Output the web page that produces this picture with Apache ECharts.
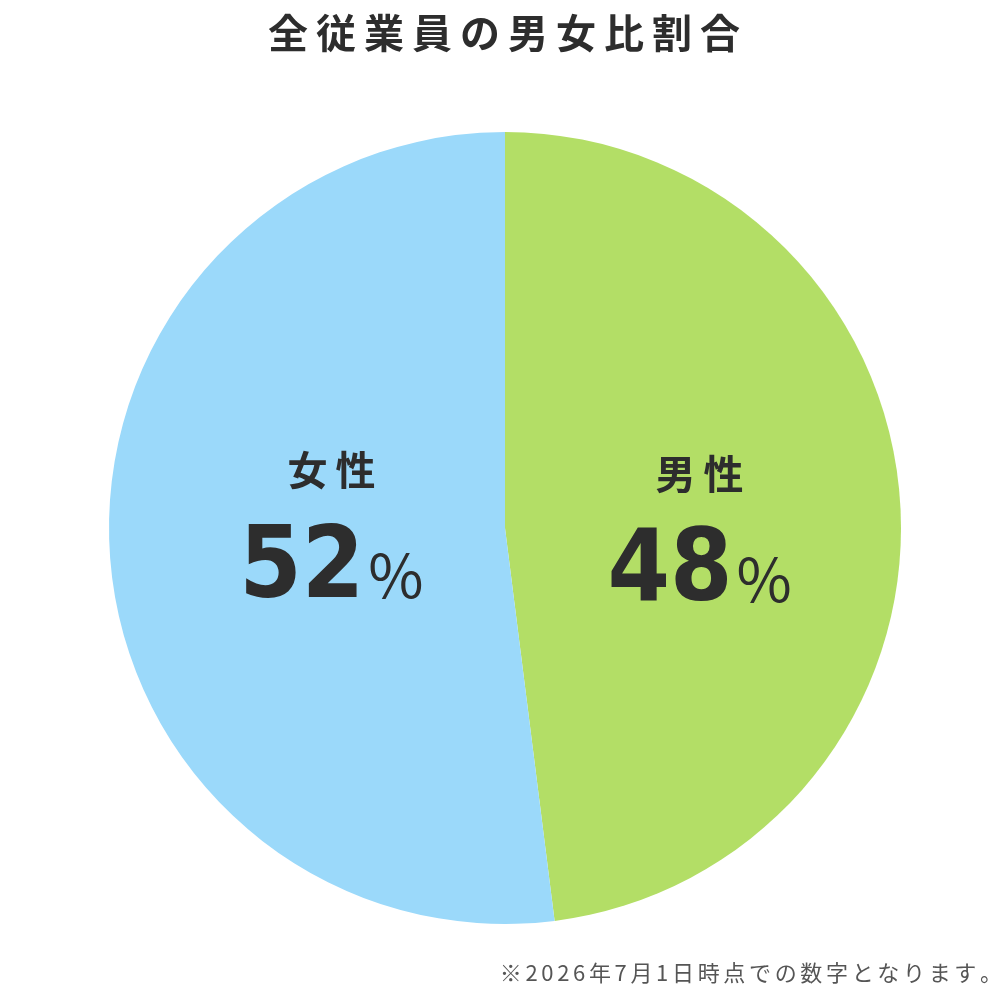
<!DOCTYPE html>
<html lang="ja">
<head>
    <meta charset="UTF-8">
    <title>全従業員の男女比割合</title>
    <script src="https://cdn.jsdelivr.net/npm/echarts@6/dist/echarts.min.js"></script>
    <style>
        html, body { margin: 0; padding: 0; background: #fff; }
        #pic1 { width: 1008px; height: 1008px; }
    </style>
</head>
<body>
<div id="pic1"></div>
<script>
    // データ
    var categories = ['男性', '女性'];
    var values = [48, 52];
    var colors = ['#b3de66', '#9bd9fa'];
    var titleText = '全従業員の男女比割合';
    var noteText = '※2026年7月1日時点での数字となります。';

    // 文字間隔の代わりに細いスペースを入れる
    function spaced(str, sp) {
        return str.split('').join(sp);
    }

    var pieData = categories.map(function (name, i) {
        return { name: name, value: values[i], itemStyle: { color: colors[i] } };
    });

    // ラベル位置の微調整 (男性, 女性)
    var labelShift = [[-6, 13], [27, -16]];

    var myCharts1 = echarts.init(document.getElementById('pic1'));
    var option1 = {
        backgroundColor: '#ffffff',
        animation: false,
        title: [
            {
                text: spaced(titleText, '\u2009'),
                left: 'center',
                top: 8,
                textStyle: {
                    color: '#2d2d2d',
                    fontSize: 40,
                    fontWeight: 'bold',
                    fontFamily: 'Noto Sans CJK JP'
                }
            },
            {
                text: spaced(noteText, '\u2006'),
                right: 1,
                top: 957,
                textStyle: {
                    color: '#555555',
                    fontSize: 22,
                    fontWeight: 'normal',
                    fontFamily: 'Noto Sans CJK JP'
                }
            }
        ],
        series: [
            {
                name: '男女比',
                type: 'pie',
                clockwise: true,
                startAngle: 90,
                radius: 396,
                center: [505, 528],
                silent: true,
                emphasis: { disabled: true },
                data: pieData,
                label: {
                    show: true,
                    position: 'inside',
                    formatter: function (p) {
                        return '{name|' + spaced(p.name, '\u2009') + '}\n{val|' + p.value + '}{pct|%}';
                    },
                    rich: {
                        name: {
                            fontSize: 40,
                            fontWeight: 'bold',
                            fontFamily: 'Noto Sans CJK JP',
                            color: '#2d2d2d',
                            lineHeight: 92,
                            align: 'center'
                        },
                        val: {
                            fontSize: 100,
                            fontWeight: 'bold',
                            fontFamily: 'DejaVu Sans Condensed',
                            color: '#2d2d2d',
                            lineHeight: 110
                        },
                        pct: {
                            fontSize: 60,
                            fontWeight: 'normal',
                            fontFamily: 'Noto Sans CJK JP',
                            color: '#2d2d2d',
                            lineHeight: 60,
                            verticalAlign: 'bottom',
                            padding: [0, 0, 20, 4]
                        }
                    }
                },
                labelLine: { show: false },
                labelLayout: function (p) {
                    var s = labelShift[p.dataIndex];
                    return { dx: s[0], dy: s[1] };
                }
            }
        ]
    };
    myCharts1.setOption(option1, true);
</script>
</body>
</html>
